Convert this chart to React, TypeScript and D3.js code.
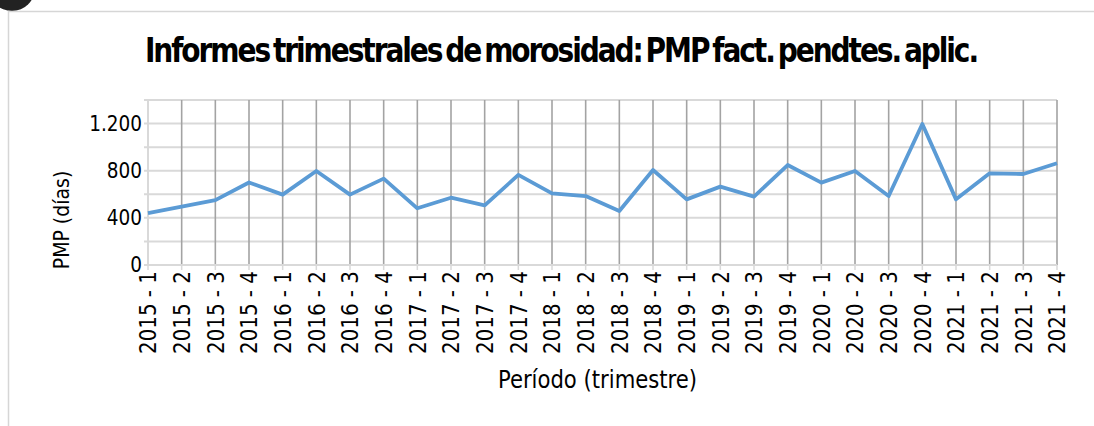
import React from "react";
import * as d3 from "d3";

const categories = [
  "2015 - 1", "2015 - 2", "2015 - 3", "2015 - 4",
  "2016 - 1", "2016 - 2", "2016 - 3", "2016 - 4",
  "2017 - 1", "2017 - 2", "2017 - 3", "2017 - 4",
  "2018 - 1", "2018 - 2", "2018 - 3", "2018 - 4",
  "2019 - 1", "2019 - 2", "2019 - 3", "2019 - 4",
  "2020 - 1", "2020 - 2", "2020 - 3", "2020 - 4",
  "2021 - 1", "2021 - 2", "2021 - 3", "2021 - 4",
];
const pmpValues = [
  440, 495, 550, 700,
  597, 798, 597, 733,
  481, 571, 506, 764,
  608, 585, 458, 806,
  557, 665, 580, 848,
  699, 798, 585, 1196,
  557, 778, 772, 863,
];
const yTicks = [0, 400, 800, 1200];
const yGrid = [0, 200, 400, 600, 800, 1000, 1200, 1400];
const yTickLabels = ["0", "400", "800", "1.200"];
const title = "Informes trimestrales de morosidad: PMP fact. pendtes. aplic.";
const yTitle = "PMP (días)";
const xTitle = "Período (trimestre)";

export default function App() {
  const W = 1094, H = 426;
  const left = 148, right = 1057, top = 100, bottom = 265;
  const x = d3.scalePoint<string>().domain(categories).range([left, right]);
  const y = d3.scaleLinear().domain([0, 1400]).range([bottom, top]);
  const line = d3
    .line<number>()
    .x((_, i) => x(categories[i]) as number)
    .y((d) => y(d));
  const font = "'DejaVu Sans Condensed', 'DejaVu Sans', sans-serif";

  return (
    <svg
      width={W}
      height={H}
      style={{ position: "absolute", left: 0, top: 0, background: "#fff" }}
    >
      <rect x={0} y={0} width={W} height={H} fill="#fff" />
      <circle cx={12} cy={-12} r={23} fill="#222" />
      <line x1={8} x2={W} y1={11.5} y2={11.5} stroke="#d6d6d6" strokeWidth={1.5} />
      <line x1={8.5} x2={8.5} y1={11} y2={H} stroke="#d6d6d6" strokeWidth={1.5} />

      <text
        x={145}
        y={62}
        fontFamily={font}
        fontWeight="bold"
        fontSize={33}
        letterSpacing={-2.2}
        wordSpacing={-4}
        textLength={832}
        lengthAdjust="spacingAndGlyphs"
        fill="#000"
      >
        {title}
      </text>

      {/* horizontal grid */}
      {yGrid.map((v) => (
        <line
          key={"h" + v}
          x1={left - 4}
          x2={right}
          y1={y(v)}
          y2={y(v)}
          stroke="#d9d9d9"
          strokeWidth={2}
        />
      ))}
      {/* vertical grid */}
      {categories.map((c, i) =>
        i === 0 ? null : (
          <line
            key={"v" + c}
            x1={x(c)}
            x2={x(c)}
            y1={top}
            y2={bottom}
            stroke="#a3a3a3"
            strokeWidth={1.6}
          />
        )
      )}
      {/* axes */}
      <line x1={left} x2={left} y1={top} y2={bottom} stroke="#d9d9d9" strokeWidth={2} />
      <line x1={left - 4} x2={right} y1={bottom} y2={bottom} stroke="#d9d9d9" strokeWidth={2} />
      {categories.map((c) => (
        <line
          key={"t" + c}
          x1={x(c)}
          x2={x(c)}
          y1={bottom}
          y2={bottom + 5}
          stroke="#d9d9d9"
          strokeWidth={1.5}
        />
      ))}

      <path
        d={line(pmpValues) || ""}
        fill="none"
        stroke="#5b9bd5"
        strokeWidth={3.8}
        strokeLinejoin="round"
      />

      {yTicks.map((v, i) => (
        <text
          key={"yl" + v}
          x={142}
          y={y(v)}
          dy="0.36em"
          textAnchor="end"
          fontFamily={font}
          fontSize={20.5}
          fill="#000"
        >
          {yTickLabels[i]}
        </text>
      ))}

      {categories.map((c) => (
        <text
          key={"xl" + c}
          transform={`translate(${x(c)},${271}) rotate(-90)`}
          dy="0.36em"
          textAnchor="end"
          fontFamily={font}
          fontSize={23}
          textLength={83}
          lengthAdjust="spacingAndGlyphs"
          fill="#000"
        >
          {c}
        </text>
      ))}

      <text
        transform={`translate(61,${220}) rotate(-90)`}
        dy="0.36em"
        textAnchor="middle"
        fontFamily={font}
        fontSize={21}
        fill="#000"
      >
        {yTitle}
      </text>

      <text
        x={498}
        y={388}
        fontFamily={font}
        fontSize={24}
        textLength={199}
        lengthAdjust="spacingAndGlyphs"
        fill="#000"
      >
        {xTitle}
      </text>
    </svg>
  );
}
